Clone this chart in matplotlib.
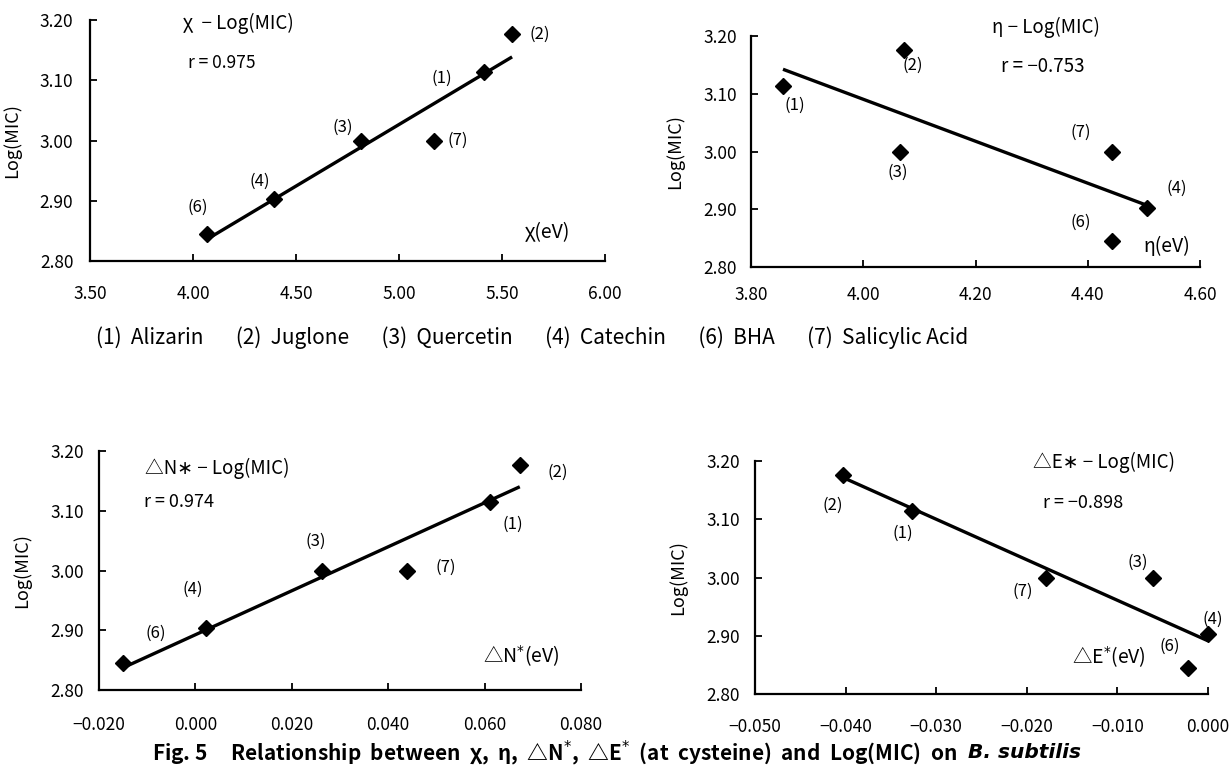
#-*- coding: utf-8 -*-
import matplotlib
matplotlib.use('Agg')
import matplotlib.pyplot as plt
import numpy as np
import matplotlib.ticker as mtick

plt.rcParams['font.family'] = ['Noto Sans CJK JP', 'DejaVu Sans']

# compounds (1) (2) (3) (4) (6) (7)
nums = ['(1)', '(2)', '(3)', '(4)', '(6)', '(7)']
names = ['Alizarin', 'Juglone', 'Quercetin', 'Catechin', 'BHA', 'Salicylic Acid']
logmic = [3.114, 3.176, 3.000, 2.903, 2.845, 3.000]

chi = [5.415, 5.549, 4.816, 4.392, 4.066, 5.169]
eta = [3.857, 4.072, 4.066, 4.506, 4.444, 4.444]
dN = [0.0611, 0.0673, 0.0263, 0.0021, -0.0151, 0.0439]
dE = [-0.0327, -0.0403, -0.0061, 0.0000, -0.0022, -0.0179]

r_vals = ['0.975', '-0.753', '0.974', '-0.898']

W, H = 1232, 767
fig = plt.figure(figsize=(W/100, H/100), dpi=100)

def px_axes(l, t, r, b):
    return fig.add_axes([l/W, 1-b/H, (r-l)/W, (b-t)/H])

def ftext(x, y, s, **kw):
    return fig.text(x/W, 1-y/H, s, va='center', **kw)

def fmt(d):
    return mtick.FuncFormatter(lambda v, p: ('%.*f' % (d, v)).replace('-', '−') if abs(v) > 1e-9 else '%.*f' % (d, 0))

def panel(ax, xs, xlim, xstep, xdec, offs, xpad=15, ypad=12):
    ax.plot(xs, logmic, 'D', color='black', ms=8, clip_on=False, zorder=3)
    k, c = np.polyfit(xs, logmic, 1)
    xl = np.array([min(xs), max(xs)])
    ax.plot(xl, k*xl+c, '-', color='black', lw=2.4, solid_capstyle='butt', clip_on=False)
    for i, (xv, yv) in enumerate(zip(xs, logmic)):
        ax.annotate(nums[i], (xv, yv), xytext=(offs[i][0], -offs[i][1]),
                    textcoords='offset pixels', ha='center', va='center', fontsize=12)
    ax.set_xlim(xlim)
    ax.set_ylim(2.8, 3.2)
    ax.set_xticks(np.arange(xlim[0], xlim[1] + xstep/2, xstep))
    ax.set_yticks(np.arange(2.8, 3.21, 0.1))
    ax.xaxis.set_major_formatter(fmt(xdec))
    ax.yaxis.set_major_formatter(fmt(2))
    for s in ['top', 'right']:
        ax.spines[s].set_visible(False)
    for s in ['left', 'bottom']:
        ax.spines[s].set_linewidth(1.6)
    ax.tick_params(direction='in', length=5, width=1.3, labelsize=12.5)
    ax.tick_params(axis='x', pad=xpad)
    ax.tick_params(axis='y', pad=ypad)
    ax.set_ylabel('Log(MIC)', fontsize=13)

# top-left: chi
ax1 = px_axes(90, 20, 605, 261)
panel(ax1, chi, (3.5, 6.0), 0.5, 2,
      [(-43, 7), (28, 0), (-18, -13), (-14, -18), (-9, -27), (24, 0)], xpad=17, ypad=12)
ax1.yaxis.set_label_coords(-0.133, 0.5)
ftext(183, 23, 'χ  − Log(MIC)', fontsize=13.5)
ftext(188, 63, 'r = 0.975', fontsize=12.5)
ftext(525, 233, 'χ(eV)', fontsize=14)

# top-right: eta
ax2 = px_axes(751, 36, 1200, 267)
panel(ax2, eta, (3.8, 4.6), 0.2, 2,
      [(12, 20), (9, 15), (-3, 21), (30, -19), (-32, -19), (-32, -19)], xpad=14, ypad=10)
ax2.yaxis.set_label_coords(-0.15, 0.5)
ftext(992, 27, 'η − Log(MIC)', fontsize=13.5)
ftext(1001, 66, 'r = ' + r_vals[1].replace('-', '−'), fontsize=13.5)
ftext(1143, 246, 'η(eV)', fontsize=14)

# legend line
ftext(96, 338, '       '.join(n + '  ' + m for n, m in zip(nums, names)), fontsize=15)

# bottom-left: delta N*
ax3 = px_axes(99, 451, 581, 690)
panel(ax3, dN, (-0.02, 0.08), 0.02, 3,
      [(23, 22), (38, 7), (-6, -29), (-13, -39), (33, -30), (39, -3)], xpad=19, ypad=11)
ax3.yaxis.set_label_coords(-0.14, 0.5)
ftext(145, 468, '△N∗ − Log(MIC)', fontsize=13.5)
ftext(144, 502, 'r = 0.974', fontsize=13)
ftext(483, 656, '△N$^{*}$(eV)', fontsize=14)

# bottom-right: delta E*
ax4 = px_axes(755, 461, 1208, 694)
panel(ax4, dE, (-0.05, 0.0), 0.01, 3,
      [(-9, 22), (-10, 30), (-15, -15), (5, -15), (-18, -21), (-23, 14)], xpad=17, ypad=11)
ax4.yaxis.set_label_coords(-0.15, 0.5)
ftext(1033, 462, '△E∗ − Log(MIC)', fontsize=13.5)
ftext(1043, 503, 'r = ' + r_vals[3].replace('-', '−'), fontsize=13)
ftext(1072, 657, '△E$^{*}$(eV)', fontsize=14)

# caption
cap = ftext(152, 753, 'Fig. 5     Relationship  between  χ,  η,  △N$^{*}$,  △E$^{*}$  (at  cysteine)  and  Log(MIC)  on',
            fontsize=15, fontweight='bold')
fig.canvas.draw()
bb = cap.get_window_extent()
fig.text((bb.x1 + 11)/W, 1-753/H, 'B. subtilis', va='center', fontsize=14.5, fontweight='bold',
         style='italic', family=['DejaVu Sans'])

fig.savefig('out.png', dpi=100)
